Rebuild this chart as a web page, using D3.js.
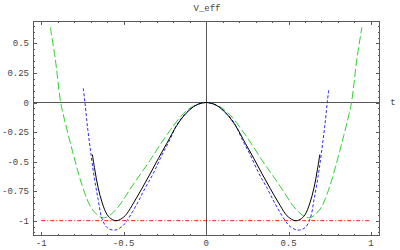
<!DOCTYPE html>
<html>
<head>
<meta charset="utf-8">
<script src="https://cdn.jsdelivr.net/npm/d3@7"></script>
<style>
  html, body { margin: 0; padding: 0; background: #fff; }
  svg { display: block; }
  text { font-family: "Liberation Mono", "DejaVu Sans Mono", monospace; fill: #444; }
</style>
</head>
<body>
<svg id="chart" width="400" height="250"></svg>
<script>
// ---- data ----
const title = "V_eff";
const axisLabel = "t";
const xTicks = [-1, -0.5, 0, 0.5, 1];
const xTickLabels = ["-1", "-0.5", "0", "0.5", "1"];
const yTicks = [0.5, 0.25, 0, -0.25, -0.5, -0.75, -1];
const yTickLabels = ["0.5", "0.25", "0", "-0.25", "-0.5", "-0.75", "-1"];

const blackT = [-0.69,-0.675,-0.655,-0.63,-0.60,-0.57,-0.54,-0.50,-0.48,-0.44,-0.39,-0.34,-0.29,-0.238,-0.178,-0.12,-0.06,0,
                0.06,0.12,0.178,0.238,0.29,0.34,0.39,0.44,0.48,0.50,0.54,0.57,0.60,0.63,0.655,0.675,0.69];
const blackV = [-0.44,-0.57,-0.72,-0.85,-0.95,-0.99,-1.0,-0.97,-0.94,-0.85,-0.73,-0.605,-0.475,-0.345,-0.195,-0.09,-0.022,0,
                -0.022,-0.09,-0.195,-0.345,-0.475,-0.605,-0.73,-0.85,-0.94,-0.97,-1.0,-0.99,-0.95,-0.85,-0.72,-0.57,-0.44];

const blueT = [-0.745,-0.735,-0.72,-0.70,-0.68,-0.655,-0.632,-0.60,-0.555,-0.51,-0.48,-0.42,-0.37,-0.32,-0.27,-0.218,-0.178,-0.12,-0.06,0,
               0.06,0.12,0.178,0.218,0.27,0.32,0.37,0.42,0.48,0.51,0.555,0.60,0.632,0.655,0.68,0.70,0.72,0.735,0.745];
const blueV = [0.12,0.0,-0.2,-0.42,-0.62,-0.82,-0.98,-1.06,-1.08,-1.05,-1.0,-0.86,-0.725,-0.60,-0.45,-0.31,-0.19,-0.085,-0.022,0,
               -0.022,-0.085,-0.19,-0.31,-0.45,-0.60,-0.725,-0.86,-1.0,-1.05,-1.08,-1.06,-0.98,-0.82,-0.62,-0.42,-0.2,0.0,0.12];

const greenT = [-0.945,-0.915,-0.882,-0.86,-0.835,-0.81,-0.784,-0.755,-0.723,-0.70,-0.665,-0.63,-0.60,-0.56,-0.52,-0.48,-0.44,-0.39,-0.34,-0.28,-0.218,-0.137,-0.07,0,
                0.07,0.137,0.218,0.28,0.34,0.39,0.44,0.48,0.52,0.56,0.60,0.63,0.665,0.70,0.723,0.755,0.784,0.81,0.835,0.86,0.882,0.915,0.945];
const greenV = [0.636,0.37,0.0,-0.14,-0.28,-0.415,-0.55,-0.69,-0.815,-0.885,-0.945,-0.975,-0.968,-0.925,-0.86,-0.775,-0.69,-0.59,-0.49,-0.36,-0.235,-0.093,-0.025,0,
                -0.025,-0.093,-0.235,-0.36,-0.49,-0.59,-0.69,-0.775,-0.86,-0.925,-0.968,-0.975,-0.945,-0.885,-0.815,-0.69,-0.55,-0.415,-0.28,-0.14,0.0,0.37,0.636];

const redT = [-1, 1];
const redV = [-1, -1];

// ---- layout ----
const svg = d3.select("#chart");
const L = 33, R = 380, T = 21, B = 236;
const x = d3.scaleLinear().domain([-1.05, 1.055]).range([L, R]);
const y = d3.scaleLinear().domain([-1.13, 0.69]).range([B, T]);

const frameColor = "#5a5a5a";

svg.append("clipPath").attr("id", "clip")
  .append("rect").attr("x", L).attr("y", T).attr("width", R - L).attr("height", B - T);

const gPlot = svg.append("g").attr("clip-path", "url(#clip)");

// origin axes
gPlot.append("line").attr("x1", L).attr("x2", R).attr("y1", y(0)).attr("y2", y(0))
  .attr("stroke", "#555").attr("stroke-width", 1).attr("shape-rendering", "crispEdges");
gPlot.append("line").attr("x1", x(0)).attr("x2", x(0)).attr("y1", T).attr("y2", B)
  .attr("stroke", "#555").attr("stroke-width", 1).attr("shape-rendering", "crispEdges");

const line = d3.line().x(d => x(d[0])).y(d => y(d[1])).curve(d3.curveCatmullRom.alpha(0.5));
const zip = (a, b) => a.map((v, i) => [v, b[i]]);

const series = [
  { t: redT, v: redV, color: "#ff1a1a", dash: "4,2,1,2", width: 1 },
  { t: greenT, v: greenV, color: "#2fd12f", dash: "8,3", width: 1 },
  { t: blueT, v: blueV, color: "#2a2aff", dash: "3,2", width: 1 },
  { t: blackT, v: blackV, color: "#000", dash: null, width: 1 }
];
series.forEach(s => {
  gPlot.append("path").attr("d", line(zip(s.t, s.v)))
    .attr("fill", "none").attr("stroke", s.color).attr("stroke-width", s.width)
    .attr("stroke-dasharray", s.dash);
});

// frame
svg.append("rect").attr("x", L + 0.5).attr("y", T + 0.5).attr("width", R - L - 1).attr("height", B - T - 1)
  .attr("fill", "none").attr("stroke", frameColor).attr("stroke-width", 1);

// frame ticks (inward)
const gT = svg.append("g").attr("stroke", frameColor).attr("stroke-width", 1).attr("shape-rendering", "crispEdges");
const xMinor = d3.range(-10, 11).map(i => i / 10);
xMinor.forEach(v => {
  const major = Math.abs(v * 2 - Math.round(v * 2)) < 1e-9;
  const len = major ? 4 : 2;
  const px = Math.round(x(v)) + 0.5;
  gT.append("line").attr("x1", px).attr("x2", px).attr("y1", B).attr("y2", B - len);
  gT.append("line").attr("x1", px).attr("x2", px).attr("y1", T).attr("y2", T + len);
});
const yMinor = d3.range(-22, 14).map(i => i * 0.05);
yMinor.forEach(v => {
  const major = Math.abs(v * 4 - Math.round(v * 4)) < 1e-9;
  const len = major ? 4 : 2;
  const py = Math.round(y(v)) + 0.5;
  gT.append("line").attr("x1", L).attr("x2", L + len).attr("y1", py).attr("y2", py);
  gT.append("line").attr("x1", R).attr("x2", R - len).attr("y1", py).attr("y2", py);
});

// tick labels
xTicks.forEach((v, i) => {
  svg.append("text").attr("x", x(v)).attr("y", 246).attr("text-anchor", "middle")
    .attr("font-size", 9).text(xTickLabels[i]);
});
yTicks.forEach((v, i) => {
  svg.append("text").attr("x", 29).attr("y", y(v) + 3).attr("text-anchor", "end")
    .attr("font-size", 9).text(yTickLabels[i]);
});

// title and axis label
svg.append("text").attr("x", 207).attr("y", 11).attr("text-anchor", "middle")
  .attr("font-size", 9).text(title);
svg.append("text").attr("x", 393).attr("y", 105).attr("text-anchor", "middle")
  .attr("font-size", 9).text(axisLabel);
</script>
</body>
</html>
